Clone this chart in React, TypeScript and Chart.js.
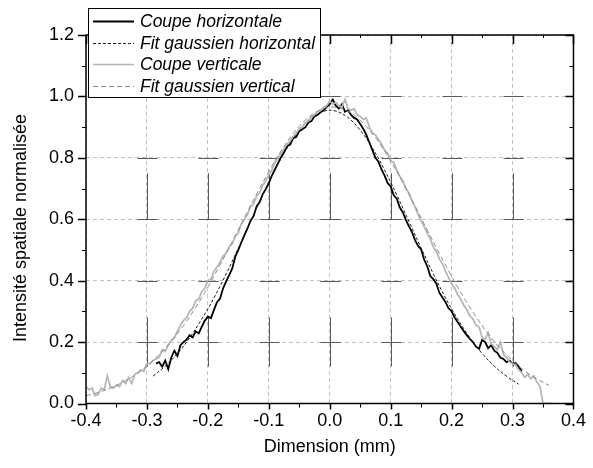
import React, { useEffect, useRef } from "react";
import { Chart, registerables } from "chart.js";
Chart.register(...registerables);

// ---------- data ----------
const xTicks = [-0.4, -0.3, -0.2, -0.1, 0.0, 0.1, 0.2, 0.3, 0.4];
const xTickLabels = ["-0.4", "-0.3", "-0.2", "-0.1", "0.0", "0.1", "0.2", "0.3", "0.4"];
const yTicks = [0, 0.2, 0.4, 0.6, 0.8, 1.0, 1.2];
const yTickLabels = ["0.0", "0.2", "0.4", "0.6", "0.8", "1.0", "1.2"];

const legendLabels = [
  "Coupe horizontale",
  "Fit gaussien horizontal",
  "Coupe verticale",
  "Fit gaussien vertical",
];

// measured horizontal cut: starts at -0.285 mm, one sample every 0.005 mm
const horizStart = -0.285;
const horizStep = 0.005;
const horizValues = [
  0.13, 0.135, 0.12, 0.14, 0.112, 0.15, 0.172, 0.155, 0.19, 0.2,
  0.208, 0.222, 0.215, 0.235, 0.228, 0.25, 0.27, 0.283, 0.278, 0.305,
  0.33, 0.342, 0.375, 0.398, 0.418, 0.44, 0.478, 0.5, 0.525, 0.548,
  0.57, 0.595, 0.61, 0.642, 0.656, 0.682, 0.698, 0.718, 0.742, 0.762,
  0.782, 0.802, 0.818, 0.838, 0.843, 0.864, 0.868, 0.887, 0.893, 0.9,
  0.915, 0.92, 0.935, 0.94, 0.948, 0.955, 0.965, 0.975, 0.99, 0.97,
  0.96, 0.975, 0.95, 0.955, 0.94, 0.93, 0.925, 0.91, 0.895, 0.875,
  0.85, 0.825, 0.8, 0.787, 0.762, 0.742, 0.718, 0.707, 0.678, 0.667,
  0.638, 0.622, 0.598, 0.577, 0.558, 0.532, 0.513, 0.502, 0.468, 0.447,
  0.415, 0.405, 0.39, 0.36, 0.345, 0.33, 0.31, 0.3, 0.28, 0.265,
  0.25, 0.235, 0.222, 0.21, 0.2, 0.185, 0.178, 0.207, 0.2, 0.18,
  0.19, 0.172, 0.165, 0.15, 0.145, 0.135, 0.14, 0.13, 0.132, 0.12,
  0.104,
];

// horizontal gaussian fit: starts at -0.29 mm, one value every 0.02 mm
const horizFitStart = -0.29;
const horizFitStep = 0.02;
const horizFitValues = [
  0.089, 0.122, 0.163, 0.214, 0.275, 0.344, 0.422, 0.506, 0.593, 0.679,
  0.76, 0.832, 0.89, 0.931, 0.952, 0.952, 0.931, 0.89, 0.832, 0.76,
  0.679, 0.593, 0.506, 0.422, 0.344, 0.275, 0.214, 0.163, 0.122, 0.089,
  0.063,
];

// measured vertical cut: starts at -0.4 mm, one sample every 0.005 mm
const vertStart = -0.4;
const vertStep = 0.005;
const vertValues = [
  0.055, 0.045, 0.05, 0.025, 0.03, 0.05, 0.045, 0.09, 0.055, 0.05,
  0.06, 0.055, 0.075, 0.065, 0.085, 0.065, 0.095, 0.1, 0.11, 0.105,
  0.13, 0.13, 0.14, 0.145, 0.15, 0.175, 0.17, 0.19, 0.205, 0.215,
  0.235, 0.255, 0.27, 0.28, 0.3, 0.31, 0.335, 0.34, 0.365, 0.375,
  0.4, 0.405, 0.43, 0.445, 0.46, 0.48, 0.49, 0.51, 0.52, 0.545,
  0.555, 0.585, 0.6, 0.615, 0.64, 0.65, 0.675, 0.685, 0.71, 0.725,
  0.745, 0.76, 0.785, 0.8, 0.815, 0.83, 0.845, 0.855, 0.87, 0.88,
  0.895, 0.9, 0.915, 0.92, 0.935, 0.94, 0.95, 0.955, 0.965, 0.97,
  0.985, 0.975, 0.98, 0.97, 0.965, 0.99, 0.96, 0.955, 0.96, 0.94,
  0.935, 0.925, 0.93, 0.9, 0.88, 0.875, 0.86, 0.845, 0.825, 0.815,
  0.79, 0.785, 0.76, 0.74, 0.725, 0.7, 0.685, 0.66, 0.64, 0.615,
  0.595, 0.575, 0.555, 0.535, 0.51, 0.495, 0.47, 0.455, 0.43, 0.41,
  0.39, 0.375, 0.355, 0.34, 0.32, 0.305, 0.285, 0.275, 0.255, 0.25,
  0.215, 0.21, 0.23, 0.195, 0.185, 0.175, 0.2, 0.16, 0.15, 0.135,
  0.13, 0.125, 0.11, 0.1, 0.085, 0.095, 0.08, 0.09, 0.07, 0.055,
  0.0, 0.0, 0.0, 0.0,
];

// vertical gaussian fit: starts at -0.4 mm, one value every 0.02 mm
const vertFitStart = -0.4;
const vertFitStep = 0.02;
const vertFitValues = [
  0.025, 0.036, 0.05, 0.069, 0.092, 0.122, 0.159, 0.203, 0.254, 0.313,
  0.379, 0.451, 0.527, 0.605, 0.682, 0.755, 0.822, 0.879, 0.923, 0.952,
  0.965, 0.96, 0.939, 0.902, 0.852, 0.79, 0.719, 0.643, 0.565, 0.488,
  0.414, 0.345, 0.283, 0.227, 0.179, 0.14, 0.106, 0.08, 0.059,
];

const toPoints = (start: number, step: number, values: number[]) =>
  values.map((y, i) => ({ x: +(start + i * step).toFixed(4), y }));

const FONT = "'Liberation Sans', Arial, sans-serif";

const decorPlugin = {
  id: "decor",
  beforeDatasetsDraw(chart: any) {
    const { ctx, scales } = chart;
    const x = scales.x;
    const y = scales.y;
    ctx.save();
    ctx.strokeStyle = "#5a5a5a";
    ctx.lineWidth = 1;
    const innerX = [-0.3, -0.2, -0.1, 0, 0.1, 0.2, 0.3];
    const rows = [0.2, 0.4, 0.6, 0.8, 1.0];
    for (const xv of innerX) {
      const px = Math.round(x.getPixelForValue(xv)) + 0.5;
      for (const yv of rows) {
        const py = Math.round(y.getPixelForValue(yv)) + 0.5;
        ctx.beginPath();
        ctx.moveTo(px - 10, py);
        ctx.lineTo(px + 10, py);
        ctx.stroke();
      }
      for (const [a, b] of [[0.6, 0.75], [0.12, 0.28]]) {
        ctx.beginPath();
        ctx.moveTo(px, y.getPixelForValue(a));
        ctx.lineTo(px, y.getPixelForValue(b));
        ctx.stroke();
      }
    }
    ctx.restore();
  },
  afterDraw(chart: any) {
    const { ctx, chartArea, scales } = chart;
    const { left, right, top, bottom } = chartArea;
    const x = scales.x;
    const y = scales.y;
    ctx.save();
    // frame
    ctx.strokeStyle = "#000";
    ctx.lineWidth = 1.5;
    ctx.strokeRect(left, top, right - left, bottom - top);
    // x ticks (bottom outward, top inward)
    for (let i = 0; i <= 16; i++) {
      const v = -0.4 + i * 0.05;
      const major = i % 2 === 0;
      const px = Math.round(x.getPixelForValue(v)) + 0.5;
      ctx.lineWidth = major ? 1.5 : 1;
      ctx.beginPath();
      ctx.moveTo(px, bottom);
      ctx.lineTo(px, bottom + (major ? 6 : 4));
      ctx.moveTo(px, top);
      ctx.lineTo(px, top + (major ? 9 : 3));
      ctx.stroke();
    }
    // y ticks (left outward, right inward)
    for (let i = 0; i <= 12; i++) {
      const v = i * 0.1;
      const major = i % 2 === 0;
      const py = Math.round(y.getPixelForValue(v)) + 0.5;
      ctx.lineWidth = major ? 1.5 : 1;
      ctx.beginPath();
      ctx.moveTo(left, py);
      ctx.lineTo(left - (major ? 8 : 4), py);
      ctx.moveTo(right, py);
      ctx.lineTo(right - (major ? 8 : 4), py);
      ctx.stroke();
    }
    // axis titles
    ctx.fillStyle = "#000";
    ctx.font = `18px ${FONT}`;
    ctx.textAlign = "center";
    ctx.textBaseline = "middle";
    ctx.fillText("Dimension (mm)", (left + right) / 2, 447);
    ctx.save();
    ctx.translate(21, 228);
    ctx.rotate(-Math.PI / 2);
    ctx.fillText("Intensité spatiale normalisée", 0, 0);
    ctx.restore();

    // legend
    const bx = 88, by = 8, bw = 232, bh = 89;
    ctx.fillStyle = "#fff";
    ctx.fillRect(bx, by, bw, bh);
    ctx.strokeStyle = "#000";
    ctx.lineWidth = 1;
    ctx.strokeRect(bx + 0.5, by + 0.5, bw, bh);
    const ds = chart.data.datasets;
    ctx.font = `italic 17.5px ${FONT}`;
    ctx.textAlign = "left";
    ctx.textBaseline = "middle";
    for (let i = 0; i < ds.length; i++) {
      const d = ds[i];
      const ry = Math.round(by + 13 + i * 21.7) + 0.5;
      ctx.save();
      ctx.strokeStyle = d.borderColor;
      ctx.lineWidth = d.borderWidth;
      ctx.setLineDash(d.borderDash || []);
      ctx.beginPath();
      ctx.moveTo(93, ry);
      ctx.lineTo(134, ry);
      ctx.stroke();
      ctx.restore();
      ctx.fillStyle = "#000";
      ctx.fillText(d.label, 140, ry + 1);
    }
    ctx.restore();
  },
};

export default function App() {
  const ref = useRef<HTMLCanvasElement | null>(null);
  useEffect(() => {
    if (!ref.current) return;
    const chart = new Chart(ref.current, {
      type: "scatter",
      data: {
        datasets: [
          {
            label: legendLabels[0],
            data: toPoints(horizStart, horizStep, horizValues),
            showLine: true,
            borderColor: "#000000",
            borderWidth: 1.8,
            pointRadius: 0,
            order: 3,
          },
          {
            label: legendLabels[1],
            data: toPoints(horizFitStart, horizFitStep, horizFitValues),
            showLine: true,
            borderColor: "#1a1a1a",
            borderWidth: 1,
            borderDash: [3, 2],
            tension: 0.4,
            pointRadius: 0,
            order: 2,
          },
          {
            label: legendLabels[2],
            data: toPoints(vertStart, vertStep, vertValues),
            showLine: true,
            borderColor: "#b4b4b4",
            borderWidth: 1.7,
            pointRadius: 0,
            order: 1,
          },
          {
            label: legendLabels[3],
            data: toPoints(vertFitStart, vertFitStep, vertFitValues),
            showLine: true,
            borderColor: "#8c8c8c",
            borderWidth: 1,
            borderDash: [5, 3],
            tension: 0.4,
            pointRadius: 0,
            order: 0,
          },
        ],
      },
      options: {
        animation: false,
        responsive: false,
        maintainAspectRatio: false,
        layout: { padding: { top: 35, right: 12, left: 0, bottom: 0 } },
        plugins: { legend: { display: false }, tooltip: { enabled: false } },
        scales: {
          x: {
            type: "linear",
            min: -0.4,
            max: 0.4,
            afterBuildTicks: (s: any) => {
              s.ticks = xTicks.map((v) => ({ value: v }));
            },
            afterFit: (s: any) => {
              s.height = 64.5;
            },
            ticks: {
              callback: (_v: any, i: number) => xTickLabels[i],
              color: "#000",
              font: { family: FONT, size: 18 },
              padding: 7,
              maxRotation: 0,
            },
            grid: { color: "#c2c2c2", lineWidth: 1, drawTicks: false },
            border: { display: false, dash: [4, 3] },
          },
          y: {
            type: "linear",
            min: 0,
            max: 1.2,
            afterBuildTicks: (s: any) => {
              s.ticks = yTicks.map((v) => ({ value: v }));
            },
            afterFit: (s: any) => {
              s.width = 86;
            },
            ticks: {
              callback: (_v: any, i: number) => yTickLabels[i],
              color: "#000",
              font: { family: FONT, size: 18 },
              padding: 12,
            },
            grid: { color: "#c2c2c2", lineWidth: 1, drawTicks: false },
            border: { display: false, dash: [4, 3] },
          },
        },
      },
      plugins: [decorPlugin],
    });
    return () => chart.destroy();
  }, []);
  return (
    <div style={{ position: "fixed", left: 0, top: 0, width: 593, height: 468, background: "#fff" }}>
      <canvas ref={ref} width={593} height={468} style={{ display: "block" }} />
    </div>
  );
}
